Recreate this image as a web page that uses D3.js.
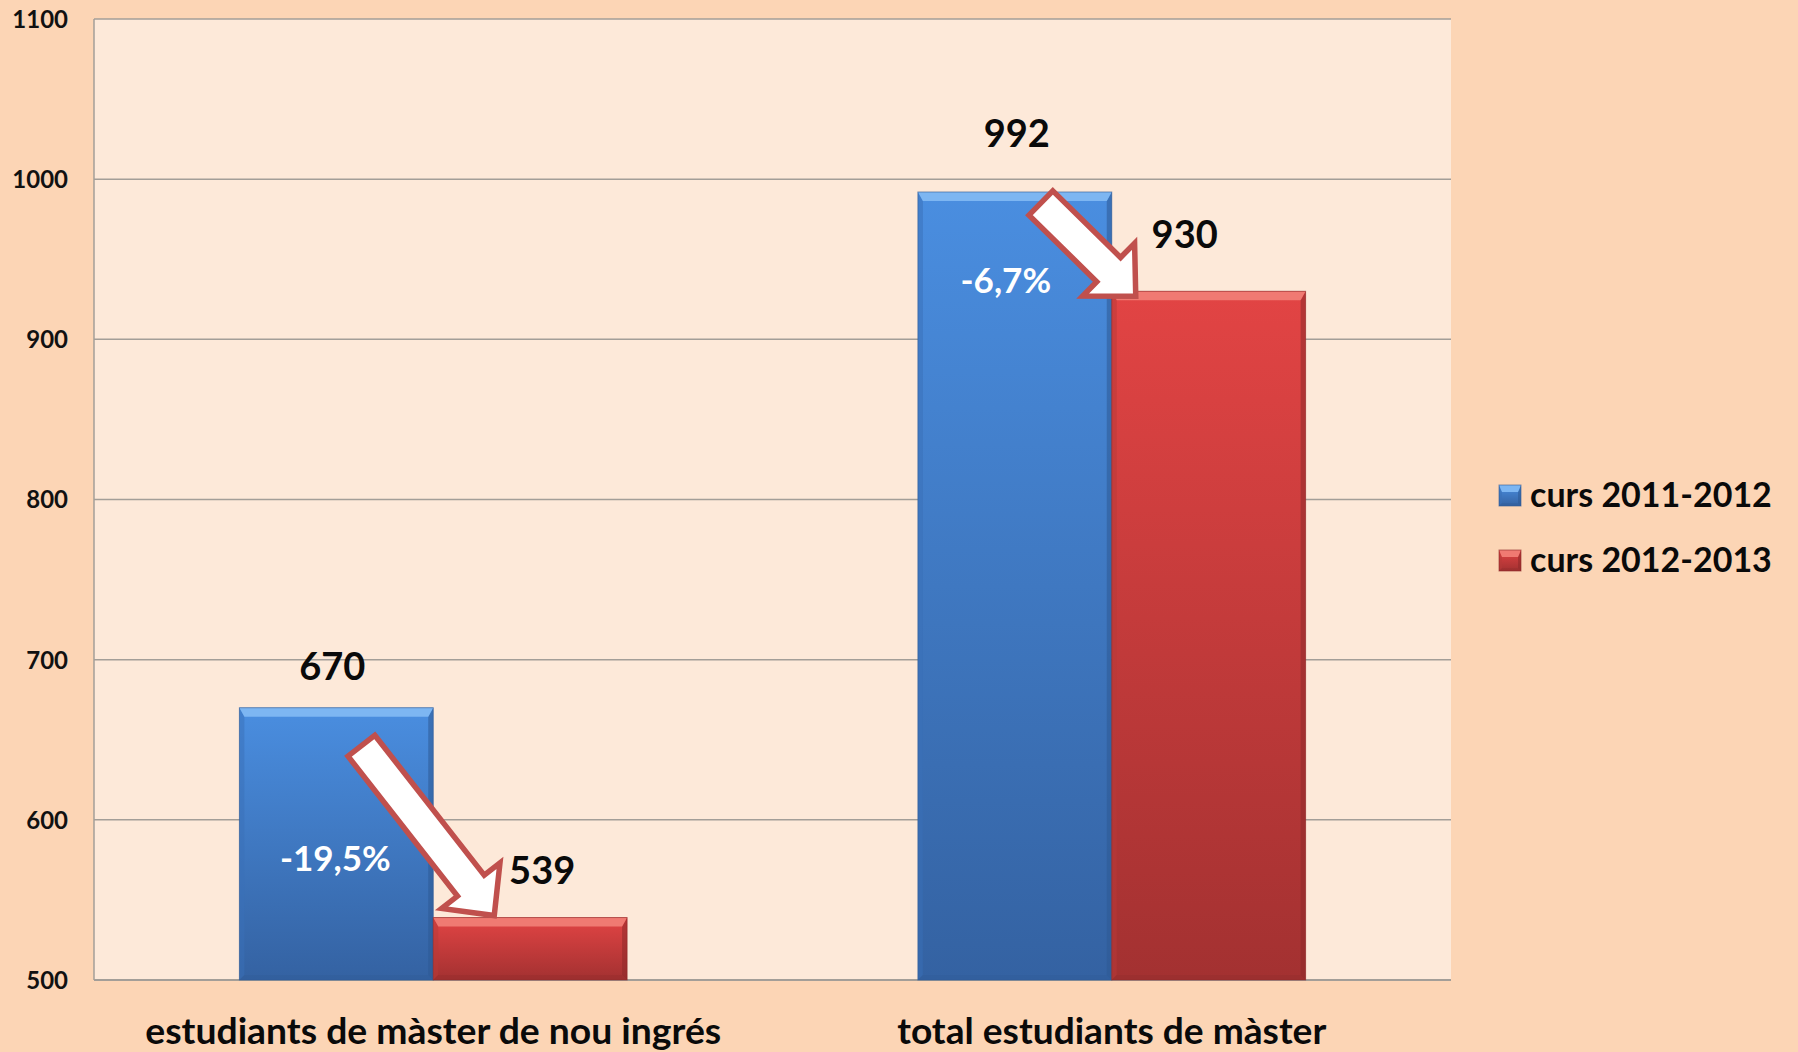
<!DOCTYPE html>
<html>
<head>
<meta charset="utf-8">
<script src="https://cdn.jsdelivr.net/npm/d3@7"></script>
<style>
  html, body { margin: 0; padding: 0; background: #FCD5B5; }
  svg { display: block; }
  text { font-family: Lato, "Open Sans", "DejaVu Sans", sans-serif; }
</style>
</head>
<body>
<svg id="chart" width="1798" height="1052"></svg>
<script>
// ---------- data ----------
const categories = ["estudiants de màster de nou ingrés", "total estudiants de màster"];
const seriesNames = ["curs 2011-2012", "curs 2012-2013"];
const values2011 = [670, 992];
const values2012 = [539, 930];
const pctLabels = ["-19,5%", "-6,7%"];
const yTicks = [500, 600, 700, 800, 900, 1000, 1100];

// ---------- layout (not data) ----------
const W = 1798, H = 1052;
const plot = { left: 94, right: 1451, top: 19, bottom: 980 };
const catLabelWidths = [576, 429];
// value-label nudges [series][category] : [dx, dy above bar top]
const valueNudge = [
  [[-4, 28], [2, 45]],
  [[12, 34], [-24, 43]]
];
// percent label nudges relative to blue bar centre / top
const pctNudge = [[-1, 163], [-9, 101]];
// arrows: tail relative to blue bar (left, top), tip relative to red bar (left, top)
const arrowLayout = [
  { tail: [122, 38], tip: [61, -2] },
  { tail: [123, 11], tip: [24, 5] }
];

const palette = {
  blue: { top: "#4A8EE0", bottom: "#3462A2", bevel: "#7DB6F2", side: "#3A70B8", edge: "#2E5A94" },
  red:  { top: "#E24444", bottom: "#A33131", bevel: "#F07A72", side: "#B83A38", edge: "#8E2A2A" }
};
const seriesColors = [palette.blue, palette.red];

const svg = d3.select("#chart");

// background
svg.append("rect").attr("width", W).attr("height", H).attr("fill", "#FCD5B5");
svg.append("rect")
  .attr("x", plot.left).attr("y", plot.top)
  .attr("width", plot.right - plot.left).attr("height", plot.bottom - plot.top)
  .attr("fill", "#FDE9D9");

// gradients
const defs = svg.append("defs");
seriesColors.forEach((c, i) => {
  const g = defs.append("linearGradient").attr("id", "grad" + i)
    .attr("x1", 0).attr("y1", 0).attr("x2", 0).attr("y2", 1);
  g.append("stop").attr("offset", "0%").attr("stop-color", c.top);
  g.append("stop").attr("offset", "100%").attr("stop-color", c.bottom);
});

// scales
const x0 = d3.scaleBand().domain(categories).range([plot.left, plot.right]).paddingInner(0).paddingOuter(0);
const bw = x0.bandwidth();
const gap = bw * 0.75 / 3.5;
const x1 = d3.scaleBand().domain(seriesNames).range([gap, bw - gap]).paddingInner(0).paddingOuter(0);
const y = d3.scaleLinear().domain([500, 1100]).range([plot.bottom, plot.top]);

// gridlines
svg.append("g").selectAll("line").data(yTicks).join("line")
  .attr("x1", plot.left).attr("x2", plot.right)
  .attr("y1", d => y(d)).attr("y2", d => y(d))
  .attr("stroke", "#A39E98").attr("stroke-width", 1.5);

// y axis
const yAxis = d3.axisLeft(y).tickValues(yTicks).tickSize(0).tickPadding(0).tickFormat(d3.format("d"));
const yg = svg.append("g").attr("transform", `translate(68,0)`).call(yAxis);
yg.select(".domain").remove();
yg.selectAll("text")
  .attr("font-family", "Lato, sans-serif")
  .attr("font-size", 24).attr("font-weight", "bold").attr("fill", "#111")
  .attr("text-anchor", "end").attr("dy", "0.35em");

// axis lines
svg.append("line").attr("x1", plot.left).attr("x2", plot.left).attr("y1", plot.top).attr("y2", plot.bottom)
  .attr("stroke", "#A39E98").attr("stroke-width", 1.5);
svg.append("line").attr("x1", plot.left).attr("x2", plot.right).attr("y1", plot.bottom).attr("y2", plot.bottom)
  .attr("stroke", "#A39E98").attr("stroke-width", 2);

// bars
const seriesValues = [values2011, values2012];
const barData = [];
seriesValues.forEach((vals, si) => {
  vals.forEach((v, ci) => {
    barData.push({ si, ci, v, x: x0(categories[ci]) + x1(seriesNames[si]), w: x1.bandwidth() });
  });
});

function drawBevelBox(g, x, yTop, w, h, c, gi, b, s) {
  g.append("rect").attr("x", x).attr("y", yTop).attr("width", w).attr("height", h)
    .attr("fill", `url(#grad${gi})`);
  g.append("polygon").attr("points", [[x, yTop], [x + s, yTop + b], [x + s, yTop + h - s], [x, yTop + h]].join(" "))
    .attr("fill", c.side).attr("opacity", 0.5);
  g.append("polygon").attr("points", [[x + w, yTop], [x + w - s, yTop + b], [x + w - s, yTop + h - s], [x + w, yTop + h]].join(" "))
    .attr("fill", c.edge).attr("opacity", 0.55);
  g.append("polygon").attr("points", [[x, yTop + h], [x + s, yTop + h - s], [x + w - s, yTop + h - s], [x + w, yTop + h]].join(" "))
    .attr("fill", c.edge).attr("opacity", 0.3);
  g.append("polygon").attr("points", [[x, yTop], [x + w, yTop], [x + w - s, yTop + b], [x + s, yTop + b]].join(" "))
    .attr("fill", c.bevel);
  g.append("rect").attr("x", x).attr("y", yTop).attr("width", w).attr("height", h)
    .attr("fill", "none").attr("stroke", c.edge).attr("stroke-width", 1).attr("stroke-opacity", 0.6);
}

const barsG = svg.append("g");
barData.forEach(d => {
  const g = barsG.append("g");
  drawBevelBox(g, d.x, y(d.v), d.w, plot.bottom - y(d.v), seriesColors[d.si], d.si, 9, 5);
});

// value labels
svg.append("g").selectAll("text").data(barData).join("text")
  .attr("x", d => d.x + d.w / 2 + valueNudge[d.si][d.ci][0])
  .attr("y", d => y(d.v) - valueNudge[d.si][d.ci][1])
  .attr("text-anchor", "middle")
  .attr("font-size", 38).attr("font-weight", "bold").attr("fill", "#0a0a0a")
  .text(d => d.v);

// arrows
function arrowPath(L, sw, hw, hl) {
  return [[0, -sw], [L - hl, -sw], [L - hl, -hw], [L, 0], [L - hl, hw], [L - hl, sw], [0, sw]];
}
categories.forEach((cat, ci) => {
  const bx = x0(cat) + x1(seriesNames[0]);
  const rx = x0(cat) + x1(seriesNames[1]);
  const a = arrowLayout[ci];
  const tail = [bx + a.tail[0], y(values2011[ci]) + a.tail[1]];
  const tip = [rx + a.tip[0], y(values2012[ci]) + a.tip[1]];
  const dx = tip[0] - tail[0], dy = tip[1] - tail[1];
  const L = Math.hypot(dx, dy);
  const ang = Math.atan2(dy, dx) * 180 / Math.PI;
  svg.append("polygon")
    .attr("points", arrowPath(L, 17, 37, 38).join(" "))
    .attr("transform", `translate(${tail[0]},${tail[1]}) rotate(${ang})`)
    .attr("fill", "#FFFFFF").attr("stroke", "#C0504D").attr("stroke-width", 5.5)
    .attr("stroke-linejoin", "miter");
});

// percent labels
svg.append("g").selectAll("text").data(categories).join("text")
  .attr("x", (c, i) => x0(c) + x1(seriesNames[0]) + x1.bandwidth() / 2 + pctNudge[i][0])
  .attr("y", (c, i) => y(values2011[i]) + pctNudge[i][1])
  .attr("text-anchor", "middle")
  .attr("font-size", 35).attr("font-weight", "bold").attr("fill", "#FFFFFF")
  .text((c, i) => pctLabels[i]);

// category labels
svg.append("g").selectAll("text").data(categories).join("text")
  .attr("x", c => x0(c) + bw / 2)
  .attr("y", 1044)
  .attr("text-anchor", "middle")
  .attr("font-size", 37).attr("font-weight", "bold").attr("fill", "#0a0a0a")
  .attr("textLength", (c, i) => catLabelWidths[i])
  .attr("lengthAdjust", "spacingAndGlyphs")
  .text(c => c);

// legend
const legend = svg.append("g").attr("transform", "translate(1499,485)");
seriesNames.forEach((name, i) => {
  const g = legend.append("g").attr("transform", `translate(0,${i * 65})`);
  drawBevelBox(g, 0, 0, 22, 21, seriesColors[i], i, 7, 3);
  g.append("text").attr("x", 31).attr("y", 22)
    .attr("font-size", 34).attr("font-weight", "bold").attr("fill", "#0a0a0a")
    .text(name);
});
</script>
</body>
</html>
